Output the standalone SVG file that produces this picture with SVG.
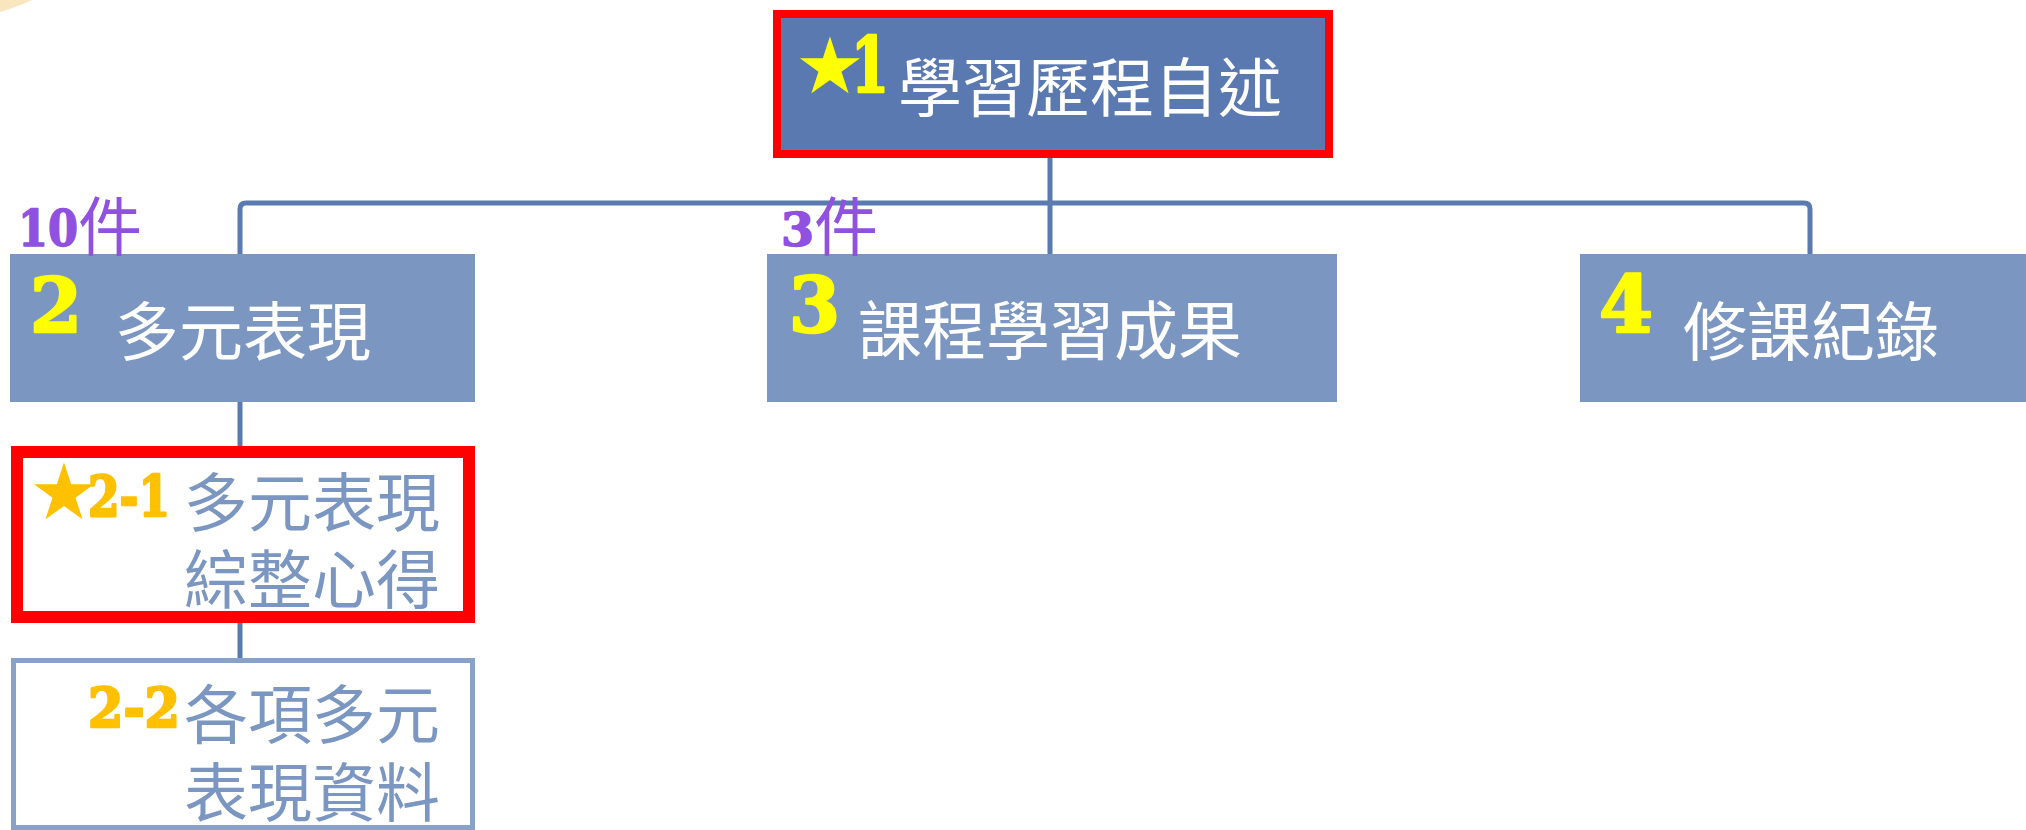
<svg xmlns="http://www.w3.org/2000/svg" width="2026" height="830" viewBox="0 0 2026 830">
<style>
.cjk{font-family:"Noto Sans CJK TC","Noto Sans CJK SC",sans-serif;font-size:64px}
.w{fill:#ffffff}
.b{fill:#7A96C1}
.num{font-family:"DejaVu Serif","Liberation Serif",serif;font-weight:bold;stroke-width:2.5;stroke-linejoin:round}
.y{fill:#FFFF00}
.num.y{stroke:#FFFF00}
.o{fill:#FFC000}
.num.o{stroke:#FFC000}
.p{fill:#9050E0}
.num.p{stroke:#9050E0;stroke-width:1.5}
.star{font-family:"DejaVu Sans",sans-serif;font-size:78px}
.conn{fill:none;stroke:#5A7AB0;stroke-width:5}
</style>
<rect width="2026" height="830" fill="#ffffff"/>
<path d="M0,0 H32 Q14,8 0,12 Z" fill="#F9E6BE"/>
<g id="connectors">
<path class="conn" d="M240,254 V209 Q240,203 246,203 H1804 Q1810,203 1810,209 V254"/>
<path class="conn" d="M1050,158 V254"/>
<path class="conn" d="M240,402 V447"/>
<path class="conn" d="M240,622 V659"/>
</g>
<g id="node1">
<rect x="777" y="14" width="552" height="140" fill="#5979B0" stroke="#FF0000" stroke-width="8"/>
<text class="y"><tspan class="star" x="795" y="93">★</tspan><tspan class="num y" x="851" y="92" font-size="76" textLength="38" lengthAdjust="spacingAndGlyphs">1</tspan></text>
<text class="cjk w" x="898" y="111">學習歷程自述</text>
</g>
<g id="node2">
<rect x="10" y="254" width="465" height="148" fill="#7A96C1"/>
<text class="p"><tspan class="num p" x="18" y="246" font-size="50" textLength="60" lengthAdjust="spacingAndGlyphs">10</tspan><tspan class="cjk" x="78" y="250" font-size="46">件</tspan></text>
<text class="num y" x="30" y="332" font-size="75" textLength="52" lengthAdjust="spacingAndGlyphs">2</text>
<text class="cjk w" x="115" y="355">多元表現</text>
</g>
<g id="node3">
<rect x="767" y="254" width="570" height="148" fill="#7A96C1"/>
<text class="p"><tspan class="num p" x="781" y="246" font-size="47" textLength="33" lengthAdjust="spacingAndGlyphs">3</tspan><tspan class="cjk" x="814" y="250" font-size="46">件</tspan></text>
<text class="num y" x="789" y="332" font-size="76" textLength="51" lengthAdjust="spacingAndGlyphs">3</text>
<text class="cjk w" x="858" y="354">課程學習成果</text>
</g>
<g id="node4">
<rect x="1580" y="254" width="446" height="148" fill="#7A96C1"/>
<text class="num y" x="1599" y="332" font-size="78" textLength="54" lengthAdjust="spacingAndGlyphs">4</text>
<text class="cjk w" x="1683" y="355">修課紀錄</text>
</g>
<g id="node2-1">
<rect x="17" y="452" width="452" height="165" fill="#ffffff" stroke="#FF0000" stroke-width="12"/>
<text class="o"><tspan class="star" x="29" y="519">★</tspan><tspan class="num o" x="88" y="516" font-size="56" textLength="82" lengthAdjust="spacingAndGlyphs">2-1</tspan></text>
<text class="cjk b" text-anchor="end"><tspan x="440" y="526">多元表現</tspan><tspan x="440" y="603">綜整心得</tspan></text>
</g>
<g id="node2-2">
<rect x="13.5" y="660.5" width="459" height="167" fill="#ffffff" stroke="#88A2C8" stroke-width="5"/>
<text class="num o" x="88" y="727" font-size="55" textLength="92" lengthAdjust="spacingAndGlyphs">2-2</text>
<text class="cjk b" text-anchor="end"><tspan x="440" y="738">各項多元</tspan><tspan x="440" y="816">表現資料</tspan></text>
</g>
</svg>
